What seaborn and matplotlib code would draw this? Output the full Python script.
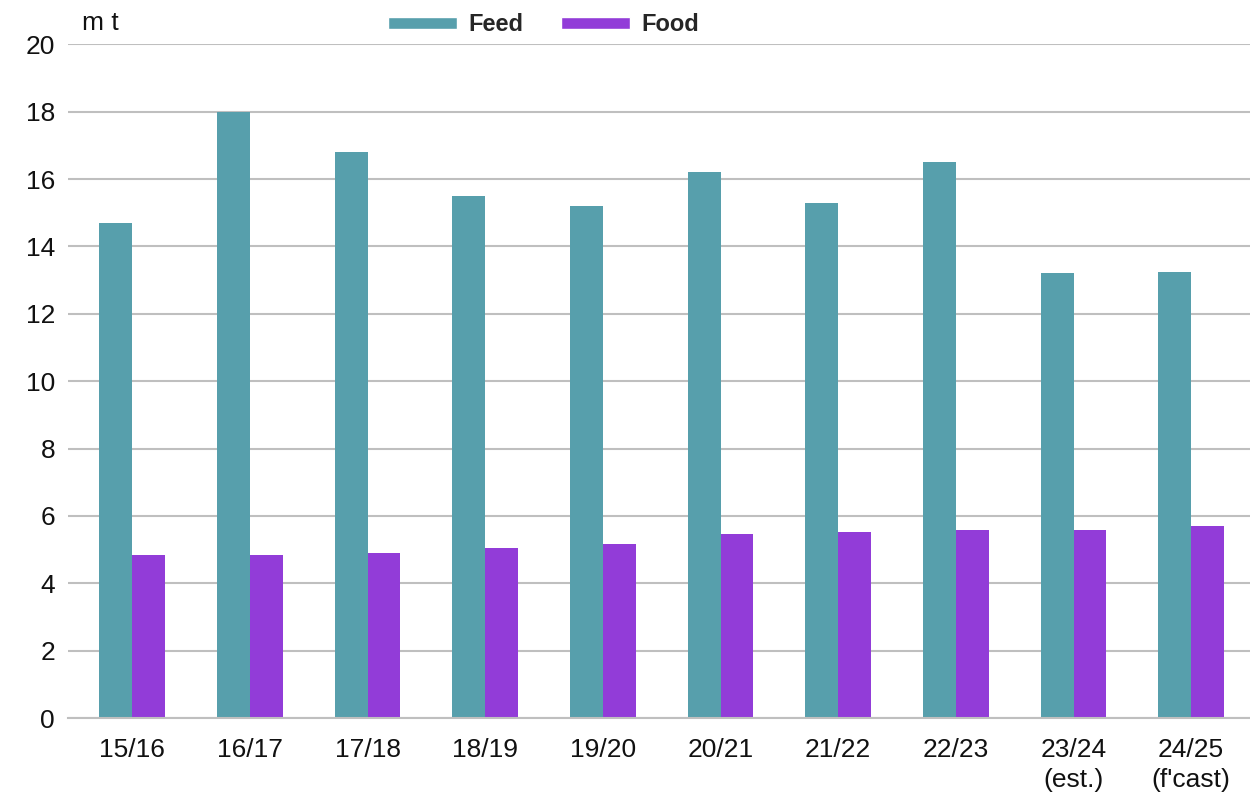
import matplotlib
matplotlib.use('Agg')
import matplotlib.pyplot as plt
import seaborn as sns
import pandas as pd
from matplotlib.patches import Patch

seasons = ['15/16', '16/17', '17/18', '18/19', '19/20', '20/21', '21/22', '22/23',
           '23/24\n(est.)', "24/25\n(f'cast)"]
feed = [14.7, 18.0, 16.8, 15.5, 15.2, 16.2, 15.3, 16.5, 13.2, 13.25]
food = [4.83, 4.83, 4.9, 5.04, 5.18, 5.46, 5.53, 5.59, 5.59, 5.69]
series = ['Feed', 'Food']
colors = ['#579FAC', '#923CD8']

df = pd.DataFrame({'season': seasons * 2,
                   'use': ['Feed'] * len(seasons) + ['Food'] * len(seasons),
                   'value': feed + food})

sns.set_style('white')
plt.rcParams['font.family'] = ['Liberation Sans', 'DejaVu Sans']

fig = plt.figure(figsize=(12.5, 8.05), dpi=100)
ax = fig.add_axes([0.054, 0.108, 0.946, 0.837])
sns.barplot(data=df, x='season', y='value', hue='use', hue_order=series,
            palette=colors, width=0.56, saturation=1, linewidth=0,
            legend=False, ax=ax)

ax.set_ylim(0, 20)
ax.set_xlim(-0.55, 9.5)
ax.set_yticks(range(0, 21, 2))
ax.yaxis.grid(True, color='#BFBFBF', linewidth=1.5)
ax.set_axisbelow(True)
for s in ['top', 'right', 'left']:
    ax.spines[s].set_visible(False)
ax.spines['bottom'].set_color('#BFBFBF')
ax.spines['bottom'].set_linewidth(1.5)
ax.tick_params(axis='both', length=0, labelsize=19, colors='#111111')
ax.tick_params(axis='y', pad=9)
ax.tick_params(axis='x', pad=14)
for lbl in ax.get_xticklabels():
    lbl.set_linespacing(1.35)
ax.set_xlabel('')
ax.set_ylabel('')

fig.text(0.066, 0.972, 'm t', fontsize=19, color='#111111', va='center')

handles = [Patch(facecolor=c, label=s) for c, s in zip(colors, series)]
fig.legend(handles=handles, loc='center', bbox_to_anchor=(0.435, 0.969), ncol=2,
           frameon=False, handlelength=2.9, handleheight=0.45,
           columnspacing=1.6, handletextpad=0.5, prop={'weight': 'bold', 'size': 17})

fig.savefig('out.png', dpi=100)
